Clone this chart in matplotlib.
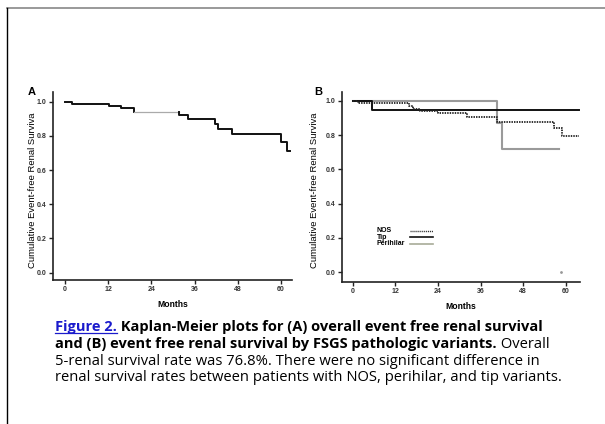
#!/usr/bin/python3

import matplotlib
matplotlib.use("Agg")
import matplotlib.pyplot as plt
from matplotlib.lines import Line2D

# ---- data ----
ticks_months = [0, 12, 24, 36, 48, 60]
ticks_surv = [0.0, 0.2, 0.4, 0.6, 0.8, 1.0]

# panel A: overall event free renal survival
a_months = [0, 2.0, 12.3, 15.6, 19.3, 31.7, 34.1, 41.6, 42.5, 46.4, 60.0, 61.8, 62.6]
a_surv = [1.0, 0.988, 0.977, 0.963, 0.938, 0.924, 0.897, 0.871, 0.842, 0.811, 0.764, 0.713, 0.713]

# panel B: by pathologic variant
nos_months = [0, 1.6, 15.9, 17.1, 19.0, 24.0, 32.1, 40.6, 56.6, 59.0, 63.8]
nos_surv = [1.0, 0.985, 0.971, 0.953, 0.940, 0.926, 0.903, 0.878, 0.839, 0.793, 0.793]
tip_months = [0, 5.3, 63.8]
tip_surv = [1.0, 0.946, 0.946]
peri_months = [0, 40.7, 41.9, 58.2]
peri_surv = [1.0, 0.868, 0.718, 0.718]
stray_point = (58.7, 0.0)

legend_labels = ["NOS", "Tip", "Perihilar"]

caption_lines = [
    [("Figure 2.", "bold", "#1a1acc"),
     (" Kaplan-Meier plots for (A) overall event free renal survival", "bold", "black")],
    [("and (B) event free renal survival by FSGS pathologic variants.", "bold", "black"),
     (" Overall", "normal", "black")],
    [("5-renal survival rate was 76.8%. There were no significant difference in", "normal", "black")],
    [("renal survival rates between patients with NOS, perihilar, and tip variants.", "normal", "black")],
]

W, H = 605, 424
CHART_FONT = "Liberation Sans"
CAP_FONT = ["Open Sans", "DejaVu Sans"]
CAP_SIZE = {"bold": 10.5, "normal": 10.6}


def px_axes(left, top, right, bottom):
    """pixel box (from top-left) -> figure fraction rect"""
    return [left / W, 1 - bottom / H, (right - left) / W, (bottom - top) / H]


def style_axes(ax, xlim, ylim):
    ax.set_xlim(*xlim)
    ax.set_ylim(*ylim)
    for side in ("top", "right"):
        ax.spines[side].set_visible(False)
    for side in ("left", "bottom"):
        ax.spines[side].set_linewidth(1.2)
        ax.spines[side].set_color("#222222")
    ax.set_xticks(ticks_months)
    ax.set_yticks(ticks_surv)
    ax.set_yticklabels([f"{v:.1f}" for v in ticks_surv])
    ax.tick_params(direction="out", length=3, width=1, color="#222222",
                   labelsize=5.0, labelcolor="#333333", pad=1.5)
    for lbl in ax.get_xticklabels() + ax.get_yticklabels():
        lbl.set_fontfamily(CHART_FONT)
        lbl.set_fontweight("bold")
    ax.set_xlabel("Months", fontsize=6.2, fontweight="bold", family=CHART_FONT, labelpad=5)
    ax.set_ylabel("Cumulative Event-free Renal Surviva", fontsize=6.8, family=CHART_FONT)


fig = plt.figure(figsize=(W / 100, H / 100), dpi=100)

# ---- panel A ----
axA = fig.add_axes(px_axes(53, 92, 292, 280))
style_axes(axA, (-3.33, 63.05), (-0.043, 1.057))
axA.yaxis.set_label_coords(-0.068, 0.475)
# black / light grey / black, as in the reference drawing
axA.plot(a_months[:5], a_surv[:5], drawstyle="steps-post", color="#111111", lw=1.4)
axA.plot(a_months[4:6], [a_surv[4], a_surv[4]], color="#aaaaaa", lw=0.9)
axA.plot([a_months[5]] + a_months[5:], [a_surv[4]] + a_surv[5:],
         drawstyle="steps-post", color="#111111", lw=1.4)
axA.text(-0.09, 1.0, "A", transform=axA.transAxes, fontsize=8, fontweight="bold",
         family=CHART_FONT, ha="center", va="center")

# ---- panel B ----
axB = fig.add_axes(px_axes(341.7, 92, 580, 281.7))
style_axes(axB, (-3.1, 64.0), (-0.055, 1.051))
axB.yaxis.set_label_coords(-0.094, 0.483)
axB.plot(peri_months, peri_surv, drawstyle="steps-post", color="#9a9a9a", lw=1.5)
axB.plot(tip_months, tip_surv, drawstyle="steps-post", color="#111111", lw=1.4)
axB.plot(nos_months, nos_surv, drawstyle="steps-post", color="#222222", lw=1.3,
         linestyle=(0, (0.8, 0.6)))
axB.scatter([stray_point[0]], [stray_point[1]], s=1, color="#999999")
axB.text(-0.10, 1.0, "B", transform=axB.transAxes, fontsize=8, fontweight="bold",
         family=CHART_FONT, ha="center", va="center")

# hand-placed legend, text left-aligned and keys in one column
leg_styles = [
    dict(color="#333333", lw=1.0, linestyle=(0, (0.8, 0.6))),
    dict(color="#111111", lw=1.2),
    dict(color="#a8ab98", lw=1.2),
]
for i, (lab, st) in enumerate(zip(legend_labels, leg_styles)):
    yy = 0.269 - i * 0.034
    axB.text(0.147, yy, lab, transform=axB.transAxes, fontsize=5, fontweight="bold",
             family=CHART_FONT, va="center", ha="left")
    axB.plot([0.287, 0.384], [yy, yy], transform=axB.transAxes, **st)

# ---- caption ----
renderer = fig.canvas.get_renderer()
baselines = [330.7, 347.7, 365.0, 381.3]
for line, base in zip(caption_lines, baselines):
    x = 55 / W
    for txt, weight, col in line:
        t = fig.text(x, 1 - base / H, txt, fontsize=CAP_SIZE[weight], fontweight=weight,
                     color=col, family=CAP_FONT, ha="left", va="baseline")
        bb = t.get_window_extent(renderer).transformed(fig.transFigure.inverted())
        if txt.startswith("Figure"):
            uy = 1 - (base + 2) / H
            fig.add_artist(Line2D([bb.x0, bb.x1], [uy, uy], color=col, lw=0.9))
        x = bb.x1

# page frame: grey rule on top, black rule on the left
fig.add_artist(Line2D([7 / W, 1], [1 - 8 / H, 1 - 8 / H], color="#888888", lw=1.2))
fig.add_artist(Line2D([7 / W, 7 / W], [0, 1 - 8 / H], color="black", lw=1.0))

fig.savefig("out.png", dpi=100)
